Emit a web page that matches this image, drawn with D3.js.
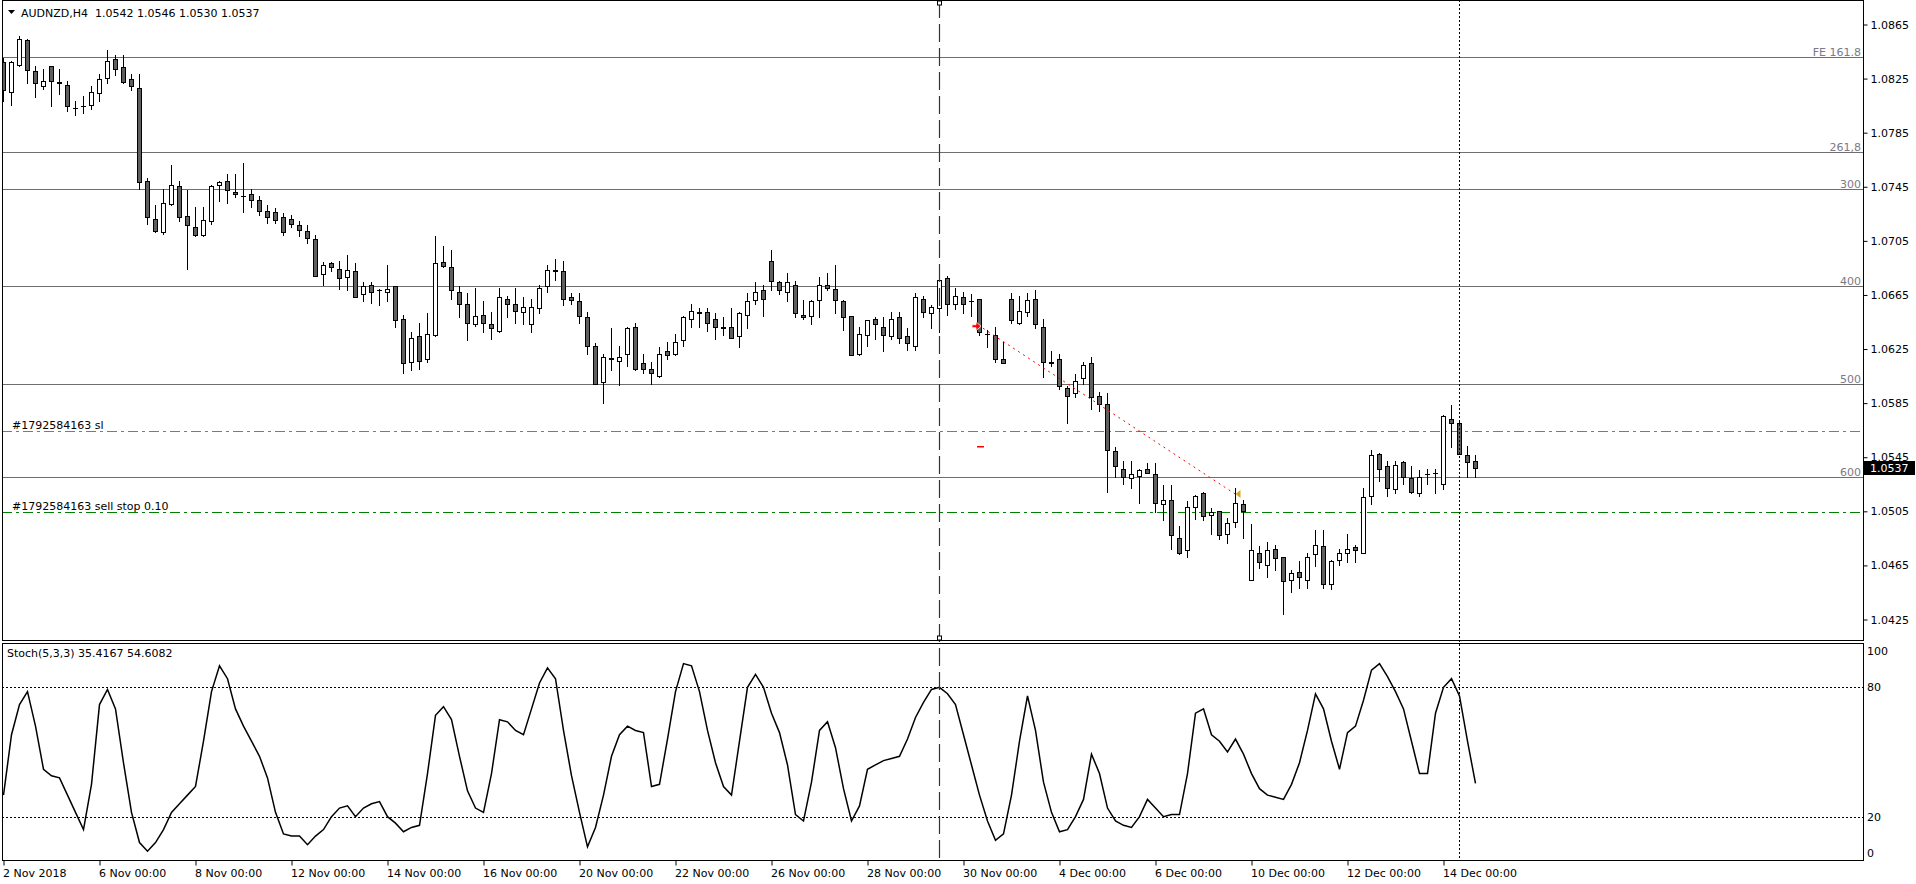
<!DOCTYPE html>
<html>
<head>
<meta charset="utf-8">
<script src="https://cdn.jsdelivr.net/npm/d3@7/dist/d3.min.js"></script>
<style>
  html, body { margin: 0; padding: 0; background: #fff; }
  svg { display: block; font-family: "DejaVu Sans", sans-serif; font-size: 11px; }
  .pre { white-space: pre; }
</style>
</head>
<body>
<svg id="chart" width="1916" height="884"></svg>
<script>
// AUDNZD H4 candles, 2 Nov 2018 00:00 .. 14 Dec 2018 16:00
var opens = [1.0837,1.0815,1.0835,1.0853,1.0830,1.0819,1.0834,1.0822,1.0820,1.0803,1.0804,1.0805,1.0814,1.0825,1.0839,1.0833,1.0824,1.0818,1.0749,1.0721,
  1.0711,1.0732,1.0745,1.0723,1.0715,1.0709,1.0719,1.0746,1.0749,1.0741,1.0738,1.0739,1.0735,1.0727,1.0726,1.0722,1.0721,1.0716,1.0712,1.0706,
  1.0680,1.0688,1.0684,1.0678,1.0682,1.0665,1.0672,1.0668,1.0667,1.0671,1.0647,1.0615,1.0634,1.0617,1.0635,1.0689,1.0685,1.0667,1.0658,1.0643,
  1.0650,1.0643,1.0638,1.0662,1.0658,1.0652,1.0643,1.0655,1.0671,1.0683,1.0682,1.0663,1.0660,1.0648,1.0627,1.0600,1.0618,1.0616,1.0621,1.0641,
  1.0614,1.0610,1.0605,1.0623,1.0621,1.0631,1.0647,1.0652,1.0652,1.0647,1.0641,1.0641,1.0634,1.0650,1.0661,1.0668,1.0690,1.0674,1.0667,1.0672,
  1.0650,1.0649,1.0661,1.0672,1.0669,1.0660,1.0649,1.0621,1.0635,1.0647,1.0641,1.0634,1.0648,1.0634,1.0627,1.0662,1.0651,1.0655,1.0677,1.0658,
  1.0663,1.0660,1.0662,1.0636,1.0635,1.0617,1.0662,1.0644,1.0652,1.0662,1.0641,1.0614,1.0617,1.0596,1.0592,1.0603,1.0614,1.0590,1.0584,1.0549,
  1.0536,1.0529,1.0531,1.0536,1.0532,1.0510,1.0513,1.0485,1.0476,1.0508,1.0518,1.0502,1.0505,1.0488,1.0497,1.0510,1.0454,1.0474,1.0465,1.0477,
  1.0471,1.0454,1.0460,1.0454,1.0473,1.0479,1.0451,1.0469,1.0474,1.0478,1.0474,1.0516,1.0547,1.0538,1.0521,1.0541,1.0529,1.0518,1.0532,1.0533,
  1.0525,1.0573,1.0570,1.0546,1.0542];
var highs = [1.0840,1.0838,1.0856,1.0854,1.0834,1.0832,1.0834,1.0832,1.0823,1.0808,1.0812,1.0819,1.0828,1.0846,1.0842,1.0842,1.0828,1.0828,1.0751,1.0731,
  1.0743,1.0761,1.0749,1.0742,1.0730,1.0730,1.0746,1.0749,1.0754,1.0754,1.0762,1.0743,1.0738,1.0731,1.0729,1.0725,1.0724,1.0719,1.0716,1.0709,
  1.0689,1.0689,1.0690,1.0694,1.0688,1.0674,1.0674,1.0669,1.0687,1.0671,1.0650,1.0637,1.0644,1.0651,1.0708,1.0701,1.0698,1.0671,1.0666,1.0670,
  1.0660,1.0652,1.0670,1.0664,1.0670,1.0663,1.0662,1.0672,1.0687,1.0691,1.0690,1.0666,1.0666,1.0652,1.0629,1.0621,1.0640,1.0627,1.0641,1.0644,
  1.0621,1.0615,1.0626,1.0630,1.0636,1.0649,1.0658,1.0655,1.0655,1.0651,1.0648,1.0655,1.0652,1.0666,1.0674,1.0672,1.0698,1.0675,1.0681,1.0675,
  1.0661,1.0661,1.0678,1.0681,1.0687,1.0661,1.0649,1.0641,1.0646,1.0648,1.0648,1.0652,1.0652,1.0640,1.0666,1.0664,1.0657,1.0685,1.0679,1.0670,
  1.0667,1.0665,1.0662,1.0639,1.0641,1.0630,1.0666,1.0664,1.0666,1.0668,1.0647,1.0623,1.0621,1.0597,1.0606,1.0615,1.0619,1.0593,1.0592,1.0552,
  1.0542,1.0542,1.0536,1.0540,1.0540,1.0524,1.0524,1.0494,1.0512,1.0517,1.0519,1.0507,1.0505,1.0500,1.0522,1.0513,1.0495,1.0479,1.0482,1.0480,
  1.0471,1.0461,1.0468,1.0474,1.0491,1.0491,1.0469,1.0477,1.0488,1.0480,1.0522,1.0550,1.0548,1.0542,1.0542,1.0542,1.0538,1.0535,1.0536,1.0536,
  1.0576,1.0583,1.0571,1.0553,1.0546];
var lows = [1.0808,1.0805,1.0834,1.0821,1.0811,1.0817,1.0804,1.0813,1.0801,1.0798,1.0799,1.0802,1.0808,1.0821,1.0827,1.0821,1.0816,1.0743,1.0717,1.0711,
  1.0710,1.0731,1.0719,1.0684,1.0708,1.0708,1.0717,1.0734,1.0733,1.0737,1.0726,1.0730,1.0724,1.0718,1.0718,1.0709,1.0715,1.0708,1.0703,1.0679,
  1.0672,1.0682,1.0669,1.0668,1.0663,1.0660,1.0659,1.0657,1.0660,1.0641,1.0607,1.0609,1.0610,1.0615,1.0634,1.0685,1.0662,1.0648,1.0631,1.0642,
  1.0637,1.0632,1.0637,1.0648,1.0644,1.0643,1.0637,1.0651,1.0667,1.0676,1.0657,1.0658,1.0644,1.0621,1.0599,1.0585,1.0609,1.0598,1.0612,1.0609,
  1.0607,1.0599,1.0604,1.0617,1.0620,1.0627,1.0641,1.0641,1.0638,1.0632,1.0635,1.0633,1.0626,1.0640,1.0658,1.0649,1.0668,1.0665,1.0660,1.0648,
  1.0647,1.0643,1.0648,1.0668,1.0651,1.0639,1.0620,1.0620,1.0627,1.0632,1.0623,1.0632,1.0629,1.0624,1.0624,1.0648,1.0640,1.0637,1.0650,1.0654,
  1.0651,1.0649,1.0635,1.0626,1.0615,1.0614,1.0644,1.0643,1.0649,1.0640,1.0604,1.0612,1.0595,1.0570,1.0589,1.0599,1.0580,1.0579,1.0519,1.0530,
  1.0525,1.0522,1.0511,1.0533,1.0504,1.0498,1.0477,1.0473,1.0471,1.0499,1.0498,1.0488,1.0484,1.0481,1.0493,1.0485,1.0454,1.0463,1.0456,1.0461,
  1.0429,1.0445,1.0448,1.0448,1.0464,1.0448,1.0447,1.0465,1.0467,1.0467,1.0474,1.0510,1.0527,1.0516,1.0518,1.0525,1.0518,1.0516,1.0525,1.0518,
  1.0521,1.0552,1.0547,1.0530,1.0530];
var closes = [1.0816,1.0837,1.0854,1.0831,1.0821,1.0823,1.0823,1.0821,1.0804,1.0803,1.0804,1.0815,1.0824,1.0838,1.0832,1.0822,1.0819,1.0748,1.0722,1.0712,
  1.0733,1.0746,1.0722,1.0716,1.0709,1.0720,1.0745,1.0748,1.0742,1.0739,1.0738,1.0735,1.0727,1.0722,1.0720,1.0711,1.0717,1.0713,1.0707,1.0679,
  1.0687,1.0685,1.0677,1.0683,1.0663,1.0671,1.0667,1.0668,1.0669,1.0646,1.0614,1.0633,1.0616,1.0636,1.0688,1.0686,1.0668,1.0658,1.0644,1.0649,
  1.0644,1.0640,1.0663,1.0658,1.0653,1.0656,1.0656,1.0670,1.0683,1.0682,1.0662,1.0661,1.0649,1.0627,1.0599,1.0619,1.0617,1.0619,1.0640,1.0610,
  1.0610,1.0607,1.0621,1.0620,1.0630,1.0648,1.0653,1.0651,1.0644,1.0641,1.0640,1.0633,1.0651,1.0660,1.0667,1.0662,1.0675,1.0668,1.0674,1.0651,
  1.0648,1.0660,1.0672,1.0670,1.0661,1.0648,1.0620,1.0636,1.0646,1.0643,1.0635,1.0647,1.0633,1.0629,1.0663,1.0652,1.0656,1.0676,1.0658,1.0664,
  1.0658,1.0660,1.0637,1.0636,1.0617,1.0614,1.0646,1.0653,1.0661,1.0643,1.0615,1.0615,1.0597,1.0590,1.0601,1.0613,1.0589,1.0584,1.0550,1.0538,
  1.0530,1.0532,1.0535,1.0533,1.0511,1.0513,1.0487,1.0474,1.0508,1.0516,1.0501,1.0504,1.0487,1.0496,1.0511,1.0505,1.0476,1.0467,1.0476,1.0470,
  1.0453,1.0459,1.0456,1.0471,1.0480,1.0451,1.0468,1.0474,1.0477,1.0476,1.0515,1.0546,1.0536,1.0522,1.0539,1.0530,1.0519,1.0530,1.0532,1.0533,
  1.0575,1.0570,1.0547,1.0541,1.0537];

// Stochastic(5,3,3) main line, one value per bar
var stochMain = [30,58,72,78,62,42,39,38,30,22,14,35,72,79,70,45,22,8,4,8,
  14,22,26,30,34,55,78,90,84,70,62,55,48,38,22,12,11,11,7,11,
  14,20,24,25,20,24,26,27,20,17,13,15,16,40,67,71,65,48,32,24,
  22,40,65,64,60,58,70,82,89,84,60,39,22,6,15,30,48,58,62,60,
  59,34,35,56,78,91,90,78,60,45,34,30,55,80,86,80,68,59,44,21,
  18,36,60,64,52,33,18,25,42,44,46,47,48,56,66,73,79,80,77,72,
  58,44,30,18,9,12,30,55,76,60,36,22,13,14,20,28,49,40,24,18,
  16,15,20,28,24,20,21,21,40,68,70,58,55,50,56,49,40,33,30,29,
  28,35,45,60,77,70,55,42,59,62,74,88,91,85,78,70,55,40,40,68,
  80,84,76,55,35.42];

var priceTicks = [1.0865,1.0825,1.0785,1.0745,1.0705,1.0665,1.0625,1.0585,1.0545,1.0505,1.0465,1.0425];
var timeTickBars = [0,12,24,36,48,60,72,84,96,108,120,132,144,156,168,180];
var timeTickLabels = ["2 Nov 2018","6 Nov 00:00","8 Nov 00:00","12 Nov 00:00","14 Nov 00:00","16 Nov 00:00",
  "20 Nov 00:00","22 Nov 00:00","26 Nov 00:00","28 Nov 00:00","30 Nov 00:00","4 Dec 00:00","6 Dec 00:00",
  "10 Dec 00:00","12 Dec 00:00","14 Dec 00:00"];
var fibPrices = [1.08408,1.07701,1.07428,1.06715,1.05990,1.05298];
var fibLabels = ["FE 161.8","261,8","300","400","500","600"];
var slPrice = 1.05640, stopPrice = 1.05039;
var stochLevels = [80,20];
var stochLabels = [100,80,20,0];
var trendBars = [122,154], trendPrices = [1.06415,1.05175];
var slMarkBar = 122, slMarkPrice = 1.05530;
var markerBar = 117, crossBar = 182;

var W = 1916, left = 2, right = 1863, mainTop = 0, mainBottom = 640, stTop = 643, stBottom = 860;

var svg = d3.select('#chart');
svg.append('rect').attr('width', W).attr('height', 884).attr('fill', '#fff');

var x = d3.scaleLinear().domain([0, 184]).range([3, 3 + 8 * 184]);
var y = d3.scaleLinear().domain([1.0865, 1.0425]).range([24, 619]);
var ys = d3.scaleLinear().domain([0, 100]).range([859.8, 644.2]);
var px = function(v) { return Math.round(v) + 0.5; };

var defs = svg.append('defs');
defs.append('clipPath').attr('id', 'clipMain').append('rect')
  .attr('x', left + 1).attr('y', mainTop + 1).attr('width', right - left - 1).attr('height', mainBottom - mainTop - 1);
defs.append('clipPath').attr('id', 'clipSt').append('rect')
  .attr('x', left + 1).attr('y', stTop + 1).attr('width', right - left - 1).attr('height', stBottom - stTop - 1);

var main = svg.append('g').attr('clip-path', 'url(#clipMain)');

// fibo expansion levels
main.selectAll('line.fib').data(fibPrices).enter().append('line')
  .attr('x1', left).attr('x2', right)
  .attr('y1', function(d) { return px(y(d)); }).attr('y2', function(d) { return px(y(d)); })
  .attr('stroke', '#6e6e6e').attr('stroke-width', 1);
main.selectAll('text.fib').data(fibPrices).enter().append('text')
  .attr('x', right - 2).attr('y', function(d) { return px(y(d)) - 2; })
  .attr('text-anchor', 'end').attr('fill', '#7a7a86')
  .text(function(d, i) { return fibLabels[i]; });

// order lines
main.append('line').attr('x1', left).attr('x2', right)
  .attr('y1', px(y(slPrice))).attr('y2', px(y(slPrice)))
  .attr('stroke', '#f0501e').attr('stroke-dasharray', '10,4,3,4');
main.append('text').attr('x', 12).attr('y', px(y(slPrice)) - 3).text('#1792584163 sl');
main.append('line').attr('x1', left).attr('x2', right)
  .attr('y1', px(y(stopPrice))).attr('y2', px(y(stopPrice)))
  .attr('stroke', '#008000').attr('stroke-dasharray', '10,4,3,4');
main.append('text').attr('x', 12).attr('y', px(y(stopPrice)) - 3).text('#1792584163 sell stop 0.10');

// candles
var idx = d3.range(opens.length);
var candles = main.append('g').attr('shape-rendering', 'crispEdges');
candles.selectAll('line.wick').data(idx).enter().append('line')
  .attr('x1', function(i) { return Math.round(x(i)) + 0.5; })
  .attr('x2', function(i) { return Math.round(x(i)) + 0.5; })
  .attr('y1', function(i) { return Math.round(y(highs[i])); })
  .attr('y2', function(i) { return Math.round(y(lows[i])) + 1; })
  .attr('stroke', '#000');
candles.selectAll('rect.body').data(idx.filter(function(i) {
    return Math.abs(Math.round(y(opens[i])) - Math.round(y(closes[i]))) >= 1;
  })).enter().append('rect')
  .attr('x', function(i) { return Math.round(x(i)) - 1.5; })
  .attr('y', function(i) { return Math.round(Math.min(y(opens[i]), y(closes[i]))) + 0.5; })
  .attr('width', 4)
  .attr('height', function(i) { return Math.abs(Math.round(y(opens[i])) - Math.round(y(closes[i]))); })
  .attr('fill', function(i) { return closes[i] >= opens[i] ? '#fff' : '#5f5f5f'; })
  .attr('stroke', '#000');
candles.selectAll('line.doji').data(idx.filter(function(i) {
    return Math.abs(Math.round(y(opens[i])) - Math.round(y(closes[i]))) < 1;
  })).enter().append('line')
  .attr('x1', function(i) { return Math.round(x(i)) - 2; })
  .attr('x2', function(i) { return Math.round(x(i)) + 3; })
  .attr('y1', function(i) { return px(y(closes[i])); })
  .attr('y2', function(i) { return px(y(closes[i])); })
  .attr('stroke', '#000');

// trade trend line and markers
main.append('line')
  .attr('x1', x(trendBars[0]) + 4).attr('y1', y(trendPrices[0]) + 2)
  .attr('x2', x(trendBars[1])).attr('y2', y(trendPrices[1]))
  .attr('stroke', '#ff0000').attr('stroke-dasharray', '2,4');
var ax = x(trendBars[0]) + 1, ay = y(trendPrices[0]);
main.append('path')
  .attr('d', 'M' + (ax - 8) + ',' + (ay - 1.5) + 'h4v-3l5,4.5l-5,4.5v-3h-4z')
  .attr('fill', '#ff0000').attr('stroke', '#fff').attr('stroke-width', 0.8);
var gx = x(trendBars[1]) + 0.5, gy = y(trendPrices[1]);
main.append('path')
  .attr('d', 'M' + gx + ',' + gy + 'l5,-4v8z').attr('fill', '#daa520');
main.append('rect').attr('x', x(slMarkBar) - 2).attr('y', Math.round(y(slMarkPrice)))
  .attr('width', 7).attr('height', 1.5).attr('fill', '#ff0000');

// header
svg.append('path').attr('d', 'M8,10h7l-3.5,4z').attr('fill', '#000');
svg.append('text').attr('class', 'pre').attr('x', 21).attr('y', 17).attr('fill', '#000')
  .text('AUDNZD,H4  1.0542 1.0546 1.0530 1.0537');

// stochastic panel
var st = svg.append('g').attr('clip-path', 'url(#clipSt)');
st.selectAll('line.lvl').data(stochLevels).enter().append('line')
  .attr('x1', left).attr('x2', right)
  .attr('y1', function(d) { return px(ys(d)); }).attr('y2', function(d) { return px(ys(d)); })
  .attr('stroke', '#000').attr('stroke-dasharray', '2,2');
st.append('path').datum(stochMain)
  .attr('d', d3.line().x(function(d, i) { return x(i) + 0.5; }).y(function(d) { return ys(d); }))
  .attr('fill', 'none').attr('stroke', '#000').attr('stroke-width', 1.5);
svg.append('text').attr('x', 7).attr('y', 657).text('Stoch(5,3,3) 35.4167 54.6082');

// vertical objects
svg.append('line').attr('x1', px(x(markerBar))).attr('x2', px(x(markerBar)))
  .attr('y1', 0).attr('y2', stBottom)
  .attr('stroke', '#333').attr('stroke-width', 1.2).attr('stroke-dasharray', '18,6');
[3, 638].forEach(function(v) {
  svg.append('rect').attr('x', px(x(markerBar)) - 2).attr('y', v - 2).attr('width', 4).attr('height', 4)
    .attr('fill', '#fff').attr('stroke', '#000').attr('stroke-width', 1);
});
svg.append('line').attr('x1', px(x(crossBar))).attr('x2', px(x(crossBar)))
  .attr('y1', 0).attr('y2', stBottom)
  .attr('stroke', '#000').attr('stroke-dasharray', '2,2');

// panel frames
svg.append('rect').attr('x', left + 0.5).attr('y', mainTop + 0.5)
  .attr('width', right - left).attr('height', mainBottom - mainTop)
  .attr('fill', 'none').attr('stroke', '#000');
svg.append('rect').attr('x', left + 0.5).attr('y', stTop + 0.5)
  .attr('width', right - left).attr('height', stBottom - stTop)
  .attr('fill', 'none').attr('stroke', '#000');

// price axis
var yAxis = d3.axisRight(y).tickValues(priceTicks).tickSize(4).tickPadding(3).tickFormat(d3.format('.4f'));
var gy1 = svg.append('g').attr('transform', 'translate(' + (right + 0.5) + ',0.5)').call(yAxis);
gy1.select('.domain').remove();
gy1.selectAll('text').attr('font-family', '"DejaVu Sans", sans-serif').attr('font-size', 11).attr('fill', '#000');

// current price label
var cp = closes[closes.length - 1];
svg.append('rect').attr('x', right + 1).attr('y', Math.round(y(cp)) - 7).attr('width', 51).attr('height', 14).attr('fill', '#000');
svg.append('text').attr('x', right + 7).attr('y', Math.round(y(cp)) + 4).attr('fill', '#fff').text(d3.format('.4f')(cp));

// stoch axis labels
svg.selectAll('text.stl').data(stochLabels).enter().append('text')
  .attr('x', right + 4)
  .attr('y', function(d) { return ys(d) + (d === 100 ? 7 : d === 0 ? -7 : 0) + 4; })
  .text(function(d) { return d; });

// time axis
var xAxis = d3.axisBottom(x).tickValues(timeTickBars).tickSize(5).tickPadding(4)
  .tickFormat(function(d, i) { return timeTickLabels[i]; });
var gx1 = svg.append('g').attr('transform', 'translate(0.5,' + (stBottom + 0.5) + ')').call(xAxis);
gx1.select('.domain').remove();
gx1.selectAll('text').attr('text-anchor', 'start').attr('dx', -1)
  .attr('font-family', '"DejaVu Sans", sans-serif').attr('font-size', 11).attr('fill', '#000');
</script>
</body>
</html>
